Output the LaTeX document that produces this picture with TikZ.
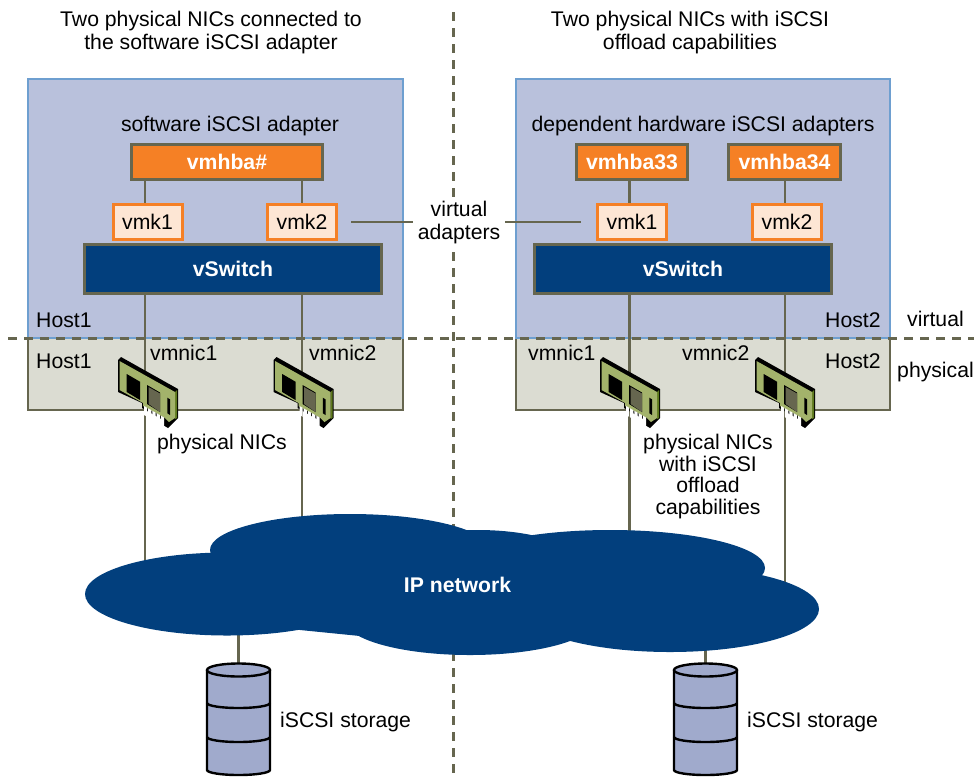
\documentclass[tikz,border=0pt]{standalone}
\usepackage{fontspec}
\setmainfont{Liberation Sans}
\usetikzlibrary{shapes.geometric}
\definecolor{hostvirt}{HTML}{B9C1DC}
\definecolor{hostline}{HTML}{6E9FD0}
\definecolor{hostphys}{HTML}{DBDCD2}
\definecolor{olive}{HTML}{66664F}
\definecolor{hbaorange}{HTML}{F58025}
\definecolor{vmkfill}{HTML}{FDE6D4}
\definecolor{netblue}{HTML}{023F7D}
\definecolor{diskblue}{HTML}{A0AACC}
\definecolor{nicgreen}{HTML}{A3B36B}
\definecolor{nicdark}{HTML}{5F7A1F}
\tikzset{
  lbl/.style={inner sep=0pt,align=center,yshift=-1.5pt,font=\fontsize{21.2}{21.8}\selectfont},
  boxbold/.style={inner sep=0pt,text=white,text height=15pt,text depth=0pt,font=\fontsize{21.2}{24}\selectfont\bfseries},
  hbabox/.style={boxbold,draw=olive,line width=3pt,fill=hbaorange,minimum height=35pt},
  vmkbox/.style={inner sep=0pt,text height=15pt,text depth=0pt,font=\fontsize{21.2}{24}\selectfont,draw=hbaorange,line width=3pt,fill=vmkfill,minimum width=69pt,minimum height=35pt},
  vswbox/.style={boxbold,draw=olive,line width=3pt,fill=netblue,minimum width=297pt,minimum height=49pt},
  linkline/.style={draw=olive,line width=2.6pt},
  divline/.style={draw=olive,line width=3pt,dash pattern=on 9pt off 7pt},
  lobe/.style={ellipse,fill=netblue,inner sep=0pt}
}
\newcommand{\niccard}[2]{%
  \begin{scope}[shift={(#1,#2)}]
    \fill[black] (0,3)--(3,0)--(60,32)--(60,61)--(50,71)--(45,68)--(45,63)--(24,51)--(24,46)--(0,35)--cycle;
    \fill[nicdark] (57,35)--(59,33)--(59,61)--(57,62)--cycle;
    \fill[nicgreen] (1.5,4)--(57,35)--(57,61)--(51,65)--(47,61)--(25,49)--(25,46)--(1.5,33)--cycle;
    \fill[black] (8.7,17)--(22,24.7)--(22,43)--(8.7,35)--cycle;
    \fill[black] (29,28)--(42,35.5)--(42,55)--(29,47)--cycle;
    \fill[olive] (30.5,30)--(42,36.5)--(42,55)--(30.5,47)--cycle;
    \fill[black] (49.3,40.7)--(52,42.3)--(52,58)--(49.3,56.3)--cycle;
    \foreach \k in {0,...,4}{
      \fill[white] ({26+4.2*\k},{49+2.4*\k})--++(3.2,1.8)--++(0,9)--++(-3.2,-1.8)--cycle;
    }
  \end{scope}
}
\newcommand{\diskstack}[1]{%
  \begin{scope}[shift={(#1,670)}]
    \draw[black,line width=2.4pt,fill=diskblue] (-31.5,0)--(-31.5,100) arc (180:0:31.5 and 5)--(31.5,0);
    \draw[black,line width=2.4pt,fill=diskblue] (0,0) ellipse (31.5 and 6.5);
    \draw[black,line width=2.4pt] (-31.5,33) arc (180:0:31.5 and 5);
    \draw[black,line width=2.4pt] (-31.5,67) arc (180:0:31.5 and 5);
  \end{scope}
}
\begin{document}
\begin{tikzpicture}[x=1pt,y=-1pt]
  \useasboundingbox (0,0) rectangle (974,780);
  \def\hostA{28} \def\hostB{516} \def\hostw{375}
  % hosts
  \draw[hostphys,fill=hostphys] (\hostA,338) rectangle ++(\hostw,72);
  \draw[olive,line width=2.6pt] (\hostA,338)--(\hostA,410)--++(\hostw,0)--++(0,-72);
  \draw[hostphys,fill=hostphys] (\hostB,338) rectangle ++(\hostw-1,72);
  \draw[olive,line width=2.6pt] (\hostB,338)--(\hostB,410)--++(\hostw-1,0)--++(0,-72);
  \draw[hostline,fill=hostvirt,line width=2.6pt] (\hostA,79) rectangle ++(\hostw,259);
  \draw[hostline,fill=hostvirt,line width=2.6pt] (\hostB,79) rectangle ++(\hostw-1,259);
  % dividers
  \coordinate (divT) at (453,12);
  \coordinate (divB) at (453,780);
  \coordinate (divL) at (8,338);
  \coordinate (divR) at (974,338);
  \draw[divline] (divT)--(divB);
  \draw[divline] (divL)--(divR);
  % taps
  \coordinate (tapA) at (145,0);
  \coordinate (tapB) at (302,0);
  \coordinate (tapC) at (629.5,0);
  \coordinate (tapD) at (785,0);
  % boxes
  \node[hbabox,minimum width=191pt] (hbaL) at (227,162) {vmhba\#};
  \node[hbabox,minimum width=111pt] (hbaC) at (632,162) {vmhba33};
  \node[hbabox,minimum width=112pt] (hbaD) at (784.5,162) {vmhba34};
  \node[vmkbox] (vmkA) at (147.5,222) {vmk1};
  \node[vmkbox] (vmkB) at (302,222) {vmk2};
  \node[vmkbox] (vmkC) at (632,222) {vmk1};
  \node[vmkbox] (vmkD) at (787,222) {vmk2};
  \node[vswbox] (vswL) at (233,269) {vSwitch};
  \node[vswbox] (vswR) at (683,269) {vSwitch};
  % links
  \draw[linkline] (tapA |- hbaL.south)--(tapA |- vmkA.north);
  \draw[linkline] (tapB |- hbaL.south)--(tapB |- vmkB.north);
  \draw[linkline] (tapC |- hbaC.south)--(tapC |- vmkC.north);
  \draw[linkline] (tapD |- hbaD.south)--(tapD |- vmkD.north);
  % cloud
  \coordinate (lobeAc) at (227,594);
  \coordinate (lobeBc) at (350,550);
  \coordinate (lobeEc) at (670,609);
  \coordinate (lobeDc) at (610,568);
  \draw[linkline] (tapA |- vswL.south)--(tapA |- lobeAc);
  \draw[linkline] (tapB |- vswL.south)--(tapB |- lobeBc);
  \draw[linkline] (tapC |- vswR.south)--(tapC |- lobeDc);
  \draw[linkline] (tapD |- vswR.south)--(tapD |- lobeEc);
  \coordinate (storeA) at (238.5,670);
  \coordinate (storeB) at (705.5,670);
  \draw[linkline] (lobeAc -| storeA)--(storeA);
  \draw[linkline] (lobeEc -| storeB)--(storeB);
  \node[lobe,minimum width=284pt,minimum height=83pt] (lobeA) at (lobeAc) {};
  \node[lobe,minimum width=280pt,minimum height=72pt] (lobeB) at (lobeBc) {};
  \node[lobe,minimum width=220pt,minimum height=80pt] (lobeC) at (478,570) {};
  \node[lobe,minimum width=310pt,minimum height=76pt] (lobeD) at (lobeDc) {};
  \node[lobe,minimum width=298pt,minimum height=86pt] (lobeE) at (lobeEc) {};
  \node[lobe,minimum width=250pt,minimum height=70pt] (lobeF) at (470,620) {};
  \fill[netblue] (lobeAc)--(300,630)--(360,636)--(470,620)--(478,570)--cycle;
  \node[inner sep=0pt,text=white,font=\fontsize{21.2}{24}\selectfont\bfseries] (ipnet) at (457.5,585) {IP network};
  \diskstack{238.5}
  \diskstack{705.5}
  % nics
  \niccard{118}{357}
  \niccard{273.5}{357}
  \niccard{600}{357}
  \niccard{755}{357}
  % texts
  \node[lbl] (titleL) at (211,31) {Two physical NICs connected to\\[2pt]the software iSCSI adapter};
  \node[lbl] (titleR) at (690,31) {Two physical NICs with iSCSI\\[2pt]offload capabilities};
  \node[lbl] (swiscsi) at (230,125) {software iSCSI adapter};
  \node[lbl] (hwiscsi) at (703,125) {dependent hardware iSCSI adapters};
  \node[lbl,anchor=west] (hostLv) at (36,319) {Host1};
  \node[lbl,anchor=west] (hostLp) at (36,360) {Host1};
  \node[lbl,anchor=west] (hostRv) at (825,319) {Host2};
  \node[lbl,anchor=west] (hostRp) at (825,360) {Host2};
  \node[lbl,anchor=west] (virt) at (907,317) {virtual};
  \node[lbl,anchor=west] (phys) at (897,371) {physical};
  \node[lbl,anchor=west] (nicA) at (150,351) {vmnic1};
  \node[lbl,anchor=west] (nicB) at (309,351) {vmnic2};
  \node[lbl,anchor=west] (nicC) at (528,351) {vmnic1};
  \node[lbl,anchor=west] (nicD) at (682,351) {vmnic2};
  \node[lbl] (physL) at (222,443) {physical NICs};
  \node[lbl] (physR) at (708,475) {physical NICs\\with iSCSI\\offload\\capabilities};
  \node[lbl,anchor=west] (storeAl) at (280,721) {iSCSI storage};
  \node[lbl,anchor=west] (storeBl) at (747,721) {iSCSI storage};
  \node[lbl,fill=white,inner xsep=5pt,inner ysep=1pt] (vadapt) at (459,221) {virtual\\[1pt]adapters};
  \draw[linkline,shorten <=13pt] (vmkB.east)--(vadapt.west |- vmkB.east);
  \draw[linkline,shorten >=15pt] (vadapt.east |- vmkC.west)--(vmkC.west);
\end{tikzpicture}
\end{document}
